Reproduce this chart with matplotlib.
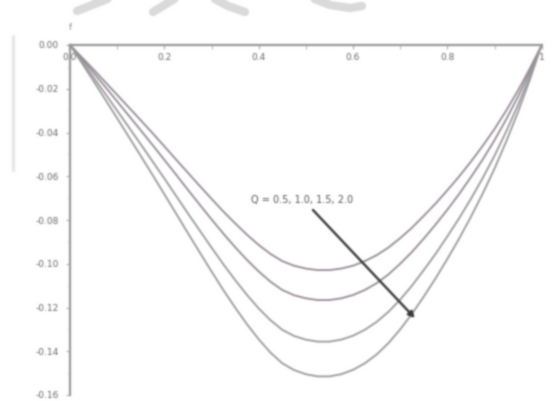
import numpy as np
import matplotlib
matplotlib.use("Agg")
import matplotlib.pyplot as plt
from matplotlib.lines import Line2D
from matplotlib.ticker import MultipleLocator

# Profiles sampled across the channel, one list per value of Q
eta = [0.000, 0.025, 0.050, 0.075, 0.100, 0.125, 0.150, 0.175, 0.200, 0.225, 0.250,
       0.275, 0.300, 0.325, 0.350, 0.375, 0.400, 0.425, 0.450, 0.475, 0.500,
       0.525, 0.550, 0.575, 0.600, 0.625, 0.650, 0.675, 0.700, 0.725, 0.750,
       0.775, 0.800, 0.825, 0.850, 0.875, 0.900, 0.925, 0.950, 0.975, 1.000]
f_q1 = [0, -0.0056, -0.0112, -0.0170, -0.0228, -0.0286, -0.0344, -0.0403, -0.0463, -0.0524, -0.0584,
        -0.0644, -0.0703, -0.0761, -0.0815, -0.0867, -0.0914, -0.0955, -0.0988, -0.1009, -0.1022,
        -0.1029, -0.1029, -0.1022, -0.1009, -0.0988, -0.0961, -0.0926, -0.0883, -0.0835, -0.0781,
        -0.0725, -0.0664, -0.0601, -0.0533, -0.0461, -0.0384, -0.0299, -0.0207, -0.0107, 0]
f_q2 = [0, -0.0063, -0.0127, -0.0192, -0.0258, -0.0324, -0.0390, -0.0457, -0.0525, -0.0593, -0.0662,
        -0.0730, -0.0797, -0.0862, -0.0924, -0.0982, -0.1035, -0.1082, -0.1120, -0.1144, -0.1158,
        -0.1166, -0.1166, -0.1158, -0.1143, -0.1120, -0.1089, -0.1049, -0.1000, -0.0946, -0.0885,
        -0.0821, -0.0753, -0.0681, -0.0604, -0.0523, -0.0435, -0.0339, -0.0235, -0.0122, 0]
f_q3 = [0, -0.0073, -0.0148, -0.0224, -0.0300, -0.0377, -0.0454, -0.0532, -0.0610, -0.0690, -0.0770,
        -0.0848, -0.0926, -0.1002, -0.1074, -0.1142, -0.1204, -0.1258, -0.1302, -0.1330, -0.1347,
        -0.1356, -0.1356, -0.1347, -0.1329, -0.1302, -0.1266, -0.1220, -0.1164, -0.1100, -0.1029,
        -0.0955, -0.0875, -0.0792, -0.0703, -0.0608, -0.0506, -0.0394, -0.0273, -0.0141, 0]
f_q4 = [0, -0.0082, -0.0165, -0.0250, -0.0335, -0.0421, -0.0507, -0.0594, -0.0682, -0.0771, -0.0860,
        -0.0948, -0.1035, -0.1120, -0.1200, -0.1276, -0.1345, -0.1406, -0.1455, -0.1486, -0.1505,
        -0.1515, -0.1515, -0.1505, -0.1485, -0.1455, -0.1415, -0.1363, -0.1300, -0.1229, -0.1150,
        -0.1067, -0.0978, -0.0885, -0.0785, -0.0679, -0.0565, -0.0440, -0.0305, -0.0158, 0]

x_ticks = [0.0, 0.2, 0.4, 0.6, 0.8, 1.0]
x_tick_labels = ["0.0", "0.2", "0.4", "0.6", "0.8", "1"]
y_ticks = [0.00, -0.02, -0.04, -0.06, -0.08, -0.10, -0.12, -0.14, -0.16]
y_tick_labels = ["0.00", "-0.02", "-0.04", "-0.06", "-0.08", "-0.10", "-0.12", "-0.14", "-0.16"]
annotation = "Q = 0.5, 1.0, 1.5, 2.0"

W, H = 556, 401
fig = plt.figure(figsize=(W / 100, H / 100), dpi=100)
fig.patch.set_facecolor("white")
ax = fig.add_axes([70 / W, 6 / H, 471.7 / W, 350 / H])
ax.set_xlim(0, 1)
ax.set_ylim(-0.16, 0)

for ys, col in [(f_q1, "#968c96"), (f_q2, "#968c96"), (f_q3, "#9a9a9a"), (f_q4, "#9a9a9a")]:
    ax.plot(eta, ys, color=col, lw=1.3, clip_on=False, zorder=3)

# Maple-style axes: x axis along f = 0, y axis along eta = 0
for side in ["right", "bottom"]:
    ax.spines[side].set_visible(False)
for side in ["left", "top"]:
    ax.spines[side].set_color("#9a9a9a")
    ax.spines[side].set_linewidth(1.6)

ax.xaxis.set_ticks_position("top")
ax.set_xticks(x_ticks)
ax.set_xticklabels(x_tick_labels)
ax.xaxis.set_minor_locator(MultipleLocator(0.1))
ax.tick_params(axis="x", which="both", direction="in", length=3, color="#aaaaaa",
               labelsize=6.5, labelcolor="#666666", pad=-12)
ax.set_yticks(y_ticks)
ax.set_yticklabels(y_tick_labels)
ax.yaxis.set_minor_locator(MultipleLocator(0.01))
ax.tick_params(axis="y", which="major", direction="out", length=3, color="#aaaaaa",
               labelsize=6.5, labelcolor="#666666", pad=5)
ax.tick_params(axis="y", which="minor", direction="out", length=1.5, color="#aaaaaa")

ax.text(0.0, 0.006, "f", fontsize=6, color="#888888", ha="center", va="bottom", clip_on=False)

ax.text(0.491, -0.0709, annotation, fontsize=7, color="#555555", ha="center", va="center")
ax.annotate("", xy=(0.731, -0.1248), xytext=(0.515, -0.0754),
            arrowprops=dict(arrowstyle="-|>,head_length=0.35,head_width=0.18",
                            color="#3a3a3a", lw=1.7, shrinkA=0, shrinkB=0), zorder=4)

# faint background strokes
def stroke(px, py, lw, col):
    fig.add_artist(Line2D([p / W for p in px], [1 - p / H for p in py],
                          transform=fig.transFigure, color=col, lw=lw,
                          solid_capstyle="round", zorder=0))

stroke([77, 110], [11, -2], 6, "#dadada")
stroke([153, 176], [12, -2], 6, "#dadada")
stroke([213, 228, 245], [-2, 6, 12], 6, "#dadada")
stroke([312, 330, 350, 362], [-2, 5, 8, 6], 6, "#dadada")
stroke([13, 13], [36, 170], 2.5, "#e8e8e8")

fig.canvas.draw()
img = np.asarray(fig.canvas.buffer_rgba())[:, :, :3].astype(float) / 255.0

# soften the rendering slightly
sigma = 0.8
r = np.arange(-3, 4)
k = np.exp(-r ** 2 / (2 * sigma ** 2))
k /= k.sum()
pad = np.pad(img, ((3, 3), (3, 3), (0, 0)), mode="edge")
tmp = sum(k[i] * pad[:, i:i + img.shape[1], :] for i in range(7))
out = sum(k[i] * tmp[i:i + img.shape[0], :, :] for i in range(7))
plt.imsave("out.png", np.clip(out, 0, 1))
